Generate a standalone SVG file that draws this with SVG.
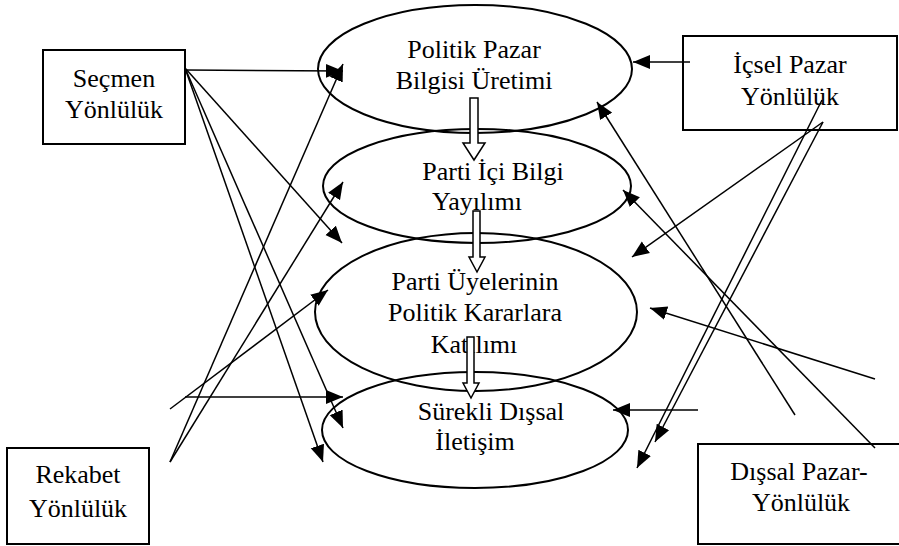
<svg xmlns="http://www.w3.org/2000/svg" width="899" height="546" viewBox="0 0 899 546">
<style>
.box{fill:#fff;stroke:#000;stroke-width:2}
.ell{fill:none;stroke:#000;stroke-width:2}
text{font-size:26px;fill:#000;text-anchor:middle}
.c{fill:none;stroke:#000;stroke-width:1.5;marker-end:url(#ah)}
.blk{fill:#fff;stroke:#000;stroke-width:1.5}
</style>
<defs>
<marker id="ah" markerUnits="userSpaceOnUse" markerWidth="18" markerHeight="16" refX="17" refY="8" orient="auto">
<path d="M0,1 L17,8 L0,15 z" fill="#000"/>
</marker>
</defs>
<rect width="899" height="546" fill="#fff"/>
<g font-family="Liberation Serif, Times New Roman, serif">
<g id="secmen">
<rect class="box" x="43" y="50" width="142" height="94"/>
<text x="114" y="87">Seçmen</text>
<text x="114" y="118">Yönlülük</text>
</g>
<g id="icsel">
<rect class="box" x="683" y="36" width="214" height="94"/>
<text x="790" y="73">İçsel Pazar</text>
<text x="790" y="105">Yönlülük</text>
</g>
<g id="rekabet">
<rect class="box" x="7" y="448" width="142" height="96"/>
<text x="78" y="483">Rekabet</text>
<text x="78" y="517">Yönlülük</text>
</g>
<g id="dissal">
<rect class="box" x="698" y="444" width="202" height="100"/>
<text x="799" y="480">Dışsal Pazar-</text>
<text x="801" y="511">Yönlülük</text>
</g>
<g id="e1">
<ellipse class="ell" cx="475" cy="69" rx="157" ry="64"/>
<text x="474" y="58">Politik Pazar</text>
<text x="474" y="89">Bilgisi Üretimi</text>
</g>
<g id="e2">
<ellipse class="ell" cx="477" cy="186" rx="154" ry="57"/>
<text x="493" y="180">Parti İçi Bilgi</text>
<text x="477" y="210">Yayılımı</text>
</g>
<g id="e3">
<ellipse class="ell" cx="476" cy="312" rx="161" ry="79"/>
<text x="475" y="290">Parti Üyelerinin</text>
<text x="475" y="321">Politik Kararlara</text>
<text x="474" y="353">Katılımı</text>
</g>
<g id="e4">
<ellipse class="ell" cx="475" cy="430" rx="153" ry="58"/>
<text x="491" y="420">Sürekli Dışsal</text>
<text x="475" y="450">İletişim</text>
</g>
</g>
<g id="flow">
<path class="blk" d="M470,98 L478,98 L478,143 L485,143 L474,160 L463,143 L470,143 z"/>
<path class="blk" d="M473,211 L480,211 L480,257 L485,257 L477,272 L469,257 L473,257 z"/>
<path class="blk" d="M467,337 L474,337 L474,383 L479,383 L471,398 L463,383 L467,383 z"/>
</g>
<g id="connectors">
<path class="c" d="M185,70 L343,71"/>
<path class="c" d="M185,68 L342,243"/>
<path class="c" d="M185,68 L343,428"/>
<path class="c" d="M185,68 L323,462"/>
<path class="c" d="M170,462 L343,64"/>
<path class="c" d="M170,462 L343,182"/>
<path class="c" d="M170,409 L328,290"/>
<path class="c" d="M185,397 L343,397"/>
<path class="c" d="M690,62 L633,62"/>
<path class="c" d="M823,122 L632,257"/>
<path class="c" d="M823,122 L655,442"/>
<path class="c" d="M822,100 L637,468"/>
<path class="c" d="M875,379 L650,308"/>
<path class="c" d="M698,410 L613,410"/>
<path class="c" d="M795,415 L597,102"/>
<path class="c" d="M875,448 L623,190"/>
</g>
</svg>
